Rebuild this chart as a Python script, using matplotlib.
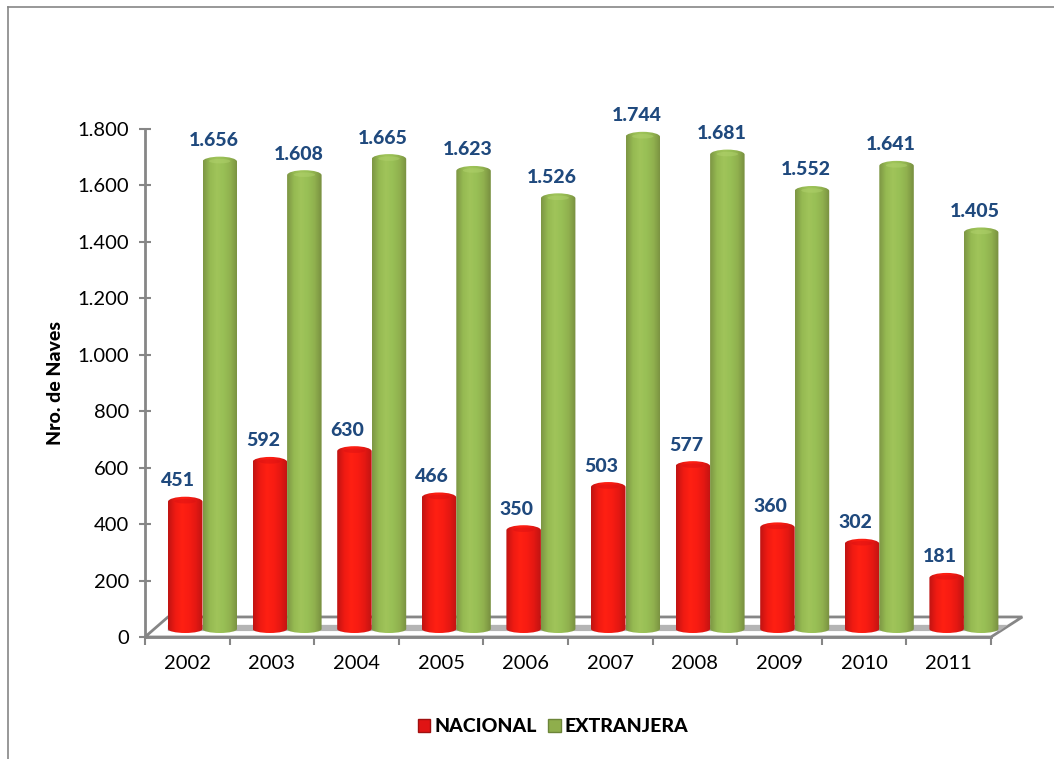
import numpy as np
import matplotlib
matplotlib.use("Agg")
import matplotlib.pyplot as plt
from matplotlib.colors import LinearSegmentedColormap
from matplotlib.lines import Line2D
from matplotlib.patches import Ellipse, Patch, Polygon, PathPatch
from matplotlib.path import Path
from matplotlib.ticker import FuncFormatter

# Data
years = ["2002", "2003", "2004", "2005", "2006", "2007", "2008", "2009", "2010", "2011"]
nacional = [451, 592, 630, 466, 350, 503, 577, 360, 302, 181]
extranjera = [1656, 1608, 1665, 1623, 1526, 1744, 1681, 1552, 1641, 1405]
y_ticks = [0, 200, 400, 600, 800, 1000, 1200, 1400, 1600, 1800]

plt.rcParams["font.family"] = ["Lato", "DejaVu Sans"]

W, H = 1054, 759
GRAY = "#868686"
LABEL = "#1f497d"

# Layout constants (pixels of the reference)
px_per_cat = 84.6
px_per_unit = 508 / 1800
bar_w = 34.5 / px_per_cat
bar_off = 23 / px_per_cat
base = 8 / px_per_unit      # cylinders stand on the floor, a bit above the axis


def dots(v):
    return f"{int(v):,}".replace(",", ".")


red_map = LinearSegmentedColormap.from_list(
    "red3d", ["#c01412", "#ee1a12", "#ff2012", "#f81c12", "#e41812", "#c01412"])
green_map = LinearSegmentedColormap.from_list(
    "green3d", ["#7d9644", "#96ba52", "#a0c45a", "#98bf55", "#90b04e", "#788f40"])

fig = plt.figure(figsize=(W / 100, H / 100), dpi=100)
ax = fig.add_axes([145 / W, 1 - 637 / H, 846 / W, 508 / H])
ax.set_xlim(0, len(years))
ax.set_ylim(0, 1800)
ax.patch.set_visible(False)


def cylinder(ax, x0, value, cmap, cap, z):
    top = base + value
    xc = x0 + bar_w / 2
    rb = 4 / px_per_unit
    rt = 5 / px_per_unit
    # outline of the body: straight sides, curved bottom and top
    k = 0.5523
    hw = bar_w / 2
    verts = [(x0, top), (x0, base),
             (x0, base - k * rb), (xc - k * hw, base - rb), (xc, base - rb),
             (xc + k * hw, base - rb), (x0 + bar_w, base - k * rb), (x0 + bar_w, base),
             (x0 + bar_w, top),
             (x0 + bar_w, top + k * rt), (xc + k * hw, top + rt), (xc, top + rt),
             (xc - k * hw, top + rt), (x0, top + k * rt), (x0, top)]
    codes = [Path.MOVETO, Path.LINETO] + [Path.CURVE4] * 6 + [Path.LINETO] + [Path.CURVE4] * 6
    clip = PathPatch(Path(verts, codes), transform=ax.transData, fc="none", ec="none", clip_on=False)
    ax.add_patch(clip)
    grad = np.linspace(0, 1, 64).reshape(1, -1)
    im = ax.imshow(grad, cmap=cmap, extent=(x0, x0 + bar_w, base - rb, top + rt),
                   aspect="auto", zorder=z, interpolation="bilinear")
    im.set_clip_box(fig.bbox)
    im.set_clip_path(clip)
    ax.add_patch(Ellipse((xc, top + rt * 0.1), bar_w * 0.62, rt * 0.9, fc=cap, ec="none", alpha=0.45,
                         zorder=z + 0.1, clip_on=False))


# Floor of the 3D chart
floor_x = [0, 0.272, 10.37, 10]
floor_y = [0, 71, 71, 0]
ax.add_patch(Polygon(list(zip(floor_x, floor_y)), closed=True, fc="white", ec=GRAY, lw=2,
                     clip_on=False, zorder=1))
ax.add_patch(Polygon([(0.27, 21), (0.27, 43), (10.2, 43), (10.1, 21)], closed=True,
                     fc="#b4b4b4", ec="none", clip_on=False, zorder=1.5))

for i in range(len(years)):
    x_red = i + bar_off
    x_green = x_red + bar_w
    cylinder(ax, x_red, nacional[i], red_map, "#d81012", 3 + i * 0.01)
    cylinder(ax, x_green, extranjera[i], green_map, "#b4d470", 4 + i * 0.01)
    ax.annotate(dots(nacional[i]), (x_red + bar_w / 2, base + nacional[i]),
                xytext=(-7, 21), textcoords="offset pixels", ha="center", va="center",
                fontsize=14, fontweight=900, color=LABEL, annotation_clip=False, zorder=6)
    ax.annotate(dots(extranjera[i]), (x_green + bar_w / 2, base + extranjera[i]),
                xytext=(-6, 21), textcoords="offset pixels", ha="center", va="center",
                fontsize=14, fontweight=900, color=LABEL, annotation_clip=False, zorder=6)

ax.set_xlim(0, len(years))
ax.set_ylim(0, 1800)

# Axes
for s in ["top", "right"]:
    ax.spines[s].set_visible(False)
for s in ["left", "bottom"]:
    ax.spines[s].set_color(GRAY)
    ax.spines[s].set_linewidth(2)
    ax.spines[s].set_zorder(2)

ax.set_yticks(y_ticks)
ax.yaxis.set_major_formatter(FuncFormatter(lambda v, p: dots(v)))
ax.tick_params(axis="y", direction="inout", length=9, width=1.5, color=GRAY,
               labelsize=14.5, labelcolor="black", pad=7)
ax.set_xticks(np.arange(len(years) + 1))
ax.set_xticklabels([])
ax.tick_params(axis="x", which="major", direction="out", length=6, width=1.5, color=GRAY)
ax.set_xticks(np.arange(len(years)) + 0.5, minor=True)
ax.set_xticklabels(years, minor=True)
ax.tick_params(axis="x", which="minor", length=0, labelsize=14.5, labelcolor="black", pad=13)

ax.set_ylabel("Nro. de Naves", fontsize=14, fontweight=900, color="black")
ax.yaxis.set_label_coords((64 - 145) / 846, (637 - 383) / 508)

# Legend
handles = [Patch(fc="#e01414", ec="#a01010", lw=1), Patch(fc="#8fae4c", ec="#6c8539", lw=1)]
fig.legend(handles, ["NACIONAL", "EXTRANJERA"], loc="center",
           bbox_to_anchor=(553 / W, 1 - 727 / H), ncol=2, frameon=False,
           prop={"size": 14, "weight": 900}, handlelength=0.65, handleheight=0.65,
           handletextpad=0.2, columnspacing=0.6)

# Chart area frame: only top and left show in the crop
fig.add_artist(Line2D([8 / W, 1], [1 - 7 / H, 1 - 7 / H], color=GRAY, lw=1.2))
fig.add_artist(Line2D([8 / W, 8 / W], [1 - 7 / H, 0], color=GRAY, lw=1.2))

fig.savefig("out.png", dpi=100, facecolor="white")
